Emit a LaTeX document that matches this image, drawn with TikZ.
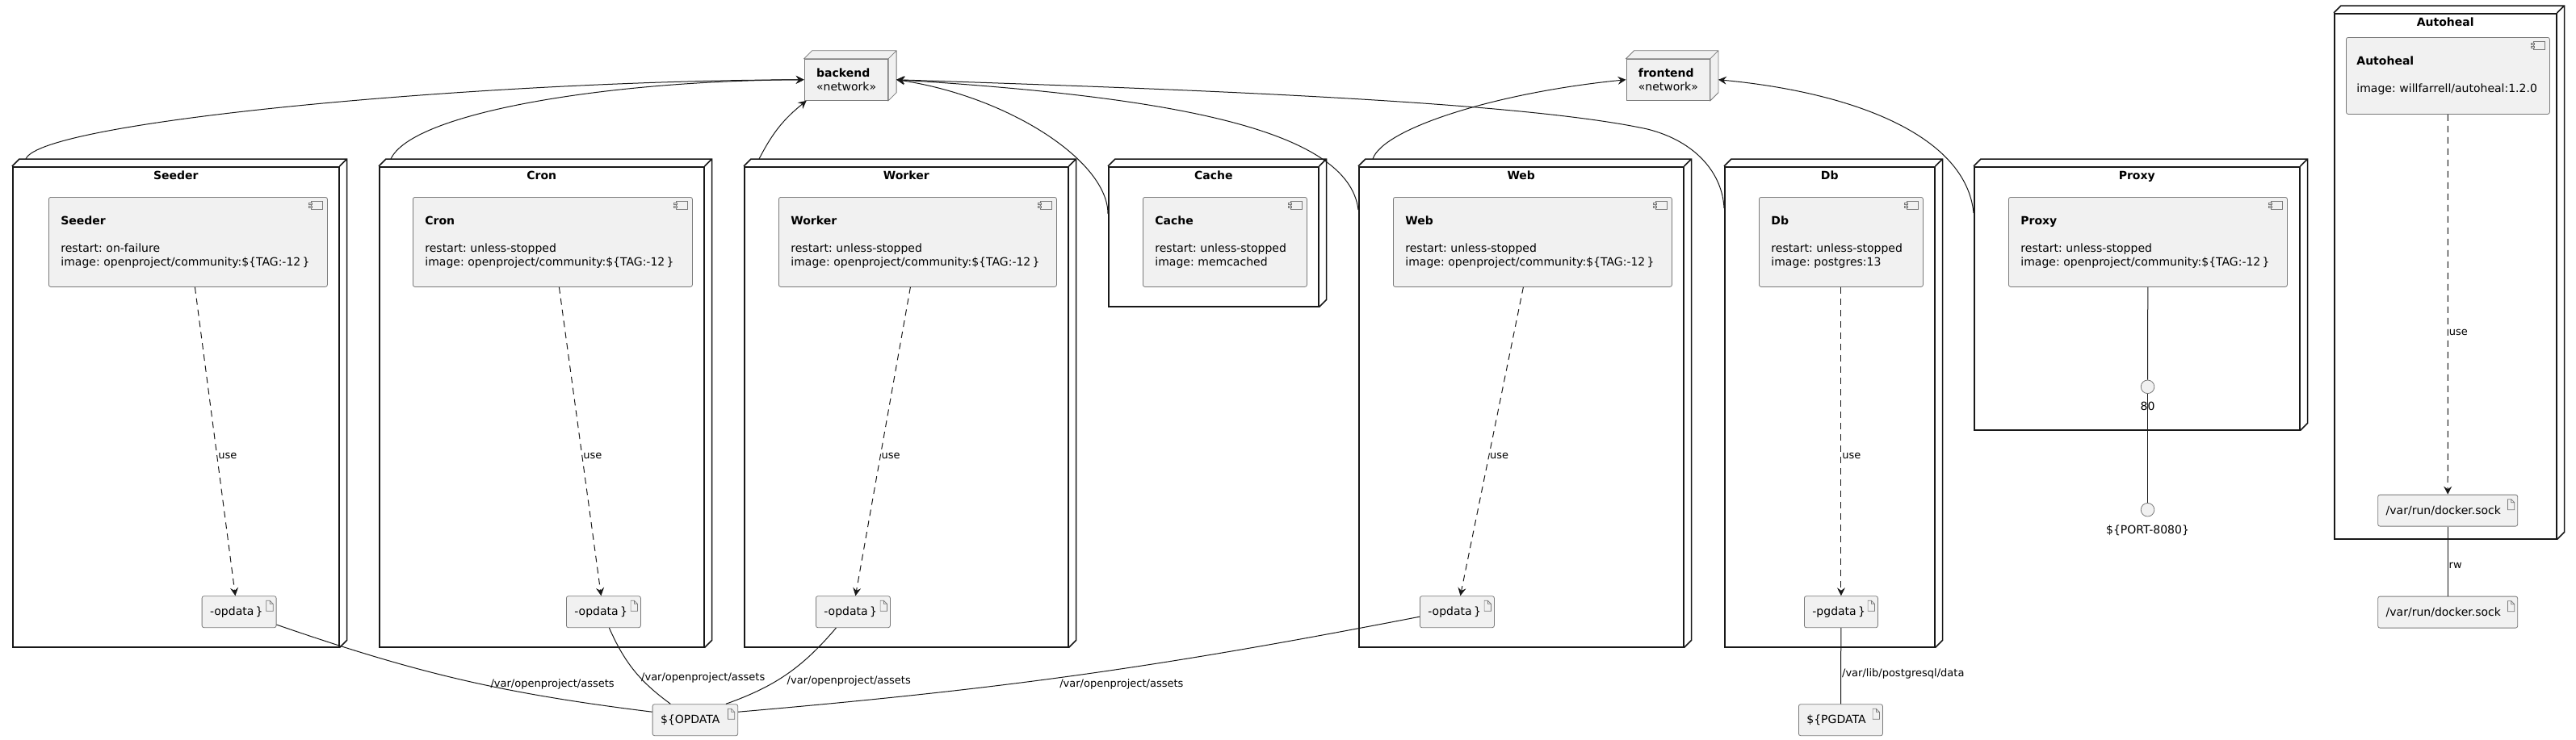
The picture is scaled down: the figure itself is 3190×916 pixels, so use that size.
\documentclass[tikz,border=0pt]{standalone}
\usepackage{fontspec}
\setmainfont{DejaVu Sans}
\usetikzlibrary{positioning, calc, arrows.meta}
\frenchspacing

\definecolor{boxfill}{HTML}{F1F1F1}
\definecolor{linecol}{HTML}{181818}
\definecolor{boxline}{HTML}{7A7A7A}

\tikzset{
  every node/.style={font=\fontsize{14}{17}\selectfont},
  dnode/.style={draw=linecol, line width=1.5pt, anchor=north west, inner sep=0pt},
  dline/.style={draw=linecol, line width=1.5pt},
  dtitle/.style={font=\fontsize{14}{17}\selectfont\bfseries, inner sep=1pt, text height=10pt, text depth=3pt},
  comp/.style={draw=boxline, fill=boxfill, line width=0.8pt, rounded corners=2.5pt, anchor=north west,
    align=left, inner xsep=15pt, inner ysep=0pt, minimum height=111pt},
  artif/.style={draw=boxline, fill=boxfill, line width=0.8pt, rounded corners=2.5pt, anchor=north west,
    align=left, inner xsep=10pt, inner ysep=0pt, minimum height=39pt},
  netw/.style={draw=boxline, fill=boxfill, line width=0.8pt, anchor=north west,
    align=left, inner xsep=15pt, inner ysep=0pt, minimum height=51.3pt, text width=73.6pt},
  iface/.style={circle, draw=boxline, fill=boxfill, line width=0.8pt, minimum size=16.6pt, inner sep=0pt},
  icon/.style={draw=boxline, fill=boxfill, line width=0.7pt},
  conn/.style={draw=linecol, line width=1pt},
  arr/.style={conn, -{Stealth[length=10pt, width=10pt, inset=3.5pt]}},
  usearr/.style={arr, dash pattern=on 8pt off 6pt},
  elbl/.style={font=\fontsize{13}{15}\selectfont, inner sep=1pt},
}

\begin{document}
\begin{tikzpicture}[x=1pt, y=1pt]
  \path[use as bounding box, fill=white] (0,0) rectangle (3190,-916);

  % containers
  \node[dnode, minimum width=404pt, minimum height=595pt] (seeder) at (15,-206) {};
  \node[dnode, minimum width=402pt, minimum height=595pt] (cron) at (469,-206) {};
  \node[dnode, minimum width=401pt, minimum height=595pt] (worker) at (921,-206) {};
  \node[dnode, minimum width=260pt, minimum height=173pt] (cache) at (1372,-206) {};
  \node[dnode, minimum width=402pt, minimum height=595pt] (web) at (1682,-206) {};
  \node[dnode, minimum width=260pt, minimum height=595pt] (db) at (2135,-206) {};
  \node[dnode, minimum width=403pt, minimum height=326pt] (proxy) at (2444,-206) {};
  \node[dnode, minimum width=275pt, minimum height=651pt] (autoheal) at (2890,-16) {};
  \foreach \n in {seeder,cron,worker,cache,web,db,proxy,autoheal}
    \draw[dline] (\n.north west) -- ++(9,9) -| ($(\n.south east)+(9,9)$) -- (\n.south east)
                 (\n.north east) -- ++(9,9);

  \node[dtitle, below=5pt of seeder.north] (seedertitle) {Seeder};
  \node[dtitle, below=5pt of cron.north] (crontitle) {Cron};
  \node[dtitle, below=5pt of worker.north] (workertitle) {Worker};
  \node[dtitle, below=5pt of cache.north] (cachetitle) {Cache};
  \node[dtitle, below=5pt of web.north] (webtitle) {Web};
  \node[dtitle, below=5pt of db.north] (dbtitle) {Db};
  \node[dtitle, below=5pt of proxy.north] (proxytitle) {Proxy};
  \node[dtitle, below=5pt of autoheal.north] (autohealtitle) {Autoheal};

  % services
  \node[comp, text width=315pt] (seedercomp) at (60,-244) {\textbf{Seeder}\\[17pt]restart: on-failure\\image: openproject/community:\$\{TAG:-12\,\}};
  \node[comp, text width=316pt] (croncomp) at (511,-244) {\textbf{Cron}\\[17pt]restart: unless-stopped\\image: openproject/community:\$\{TAG:-12\,\}};
  \node[comp, text width=314pt] (workercomp) at (964,-244) {\textbf{Worker}\\[17pt]restart: unless-stopped\\image: openproject/community:\$\{TAG:-12\,\}};
  \node[comp, text width=173pt] (cachecomp) at (1415,-244) {\textbf{Cache}\\[17pt]restart: unless-stopped\\image: memcached};
  \node[comp, text width=315pt] (webcomp) at (1725,-244) {\textbf{Web}\\[17pt]restart: unless-stopped\\image: openproject/community:\$\{TAG:-12\,\}};
  \node[comp, text width=173pt] (dbcomp) at (2178,-244) {\textbf{Db}\\[17pt]restart: unless-stopped\\image: postgres:13};
  \node[comp, text width=315pt] (proxycomp) at (2487,-244) {\textbf{Proxy}\\[17pt]restart: unless-stopped\\image: openproject/community:\$\{TAG:-12\,\}};
  \node[comp, text width=226pt, inner xsep=13pt, minimum height=95pt] (autohealcomp) at (2905,-46) {\textbf{Autoheal}\\[17pt]image: willfarrell/autoheal:1.2.0};
  \foreach \n in {seedercomp,croncomp,workercomp,cachecomp,webcomp,dbcomp,proxycomp,autohealcomp}{
    \draw[icon] ([shift={(-20,-5.5)}]\n.north east) rectangle ++(14,-10);
    \draw[icon] ([shift={(-23.3,-7.5)}]\n.north east) rectangle ++(4,-2)
                ([shift={(-23.3,-11.5)}]\n.north east) rectangle ++(4,-2);
  }

  % volumes
  \node[artif, text width=72pt] (seederdata) at (249.7,-738.3) {-opdata\,\}};
  \node[artif, text width=72pt] (crondata) at (701,-738.3) {-opdata\,\}};
  \node[artif, text width=72pt] (workerdata) at (1010,-738.3) {-opdata\,\}};
  \node[artif, text width=72pt] (webdata) at (1758,-738.3) {-opdata\,\}};
  \node[artif, text width=71pt] (dbdata) at (2234,-738.3) {-pgdata\,\}};
  \node[artif, text width=85.6pt] (opdata) at (807.7,-872.3) {\$\{OPDATA};
  \node[artif, text width=84pt] (pgdata) at (2227,-872.3) {\$\{PGDATA};
  \node[artif, text width=153pt] (sockin) at (2944.3,-612.7) {/var/run/docker.sock};
  \node[artif, text width=153pt] (sockout) at (2944.3,-738.7) {/var/run/docker.sock};
  \foreach \n in {seederdata,crondata,workerdata,webdata,dbdata,opdata,pgdata,sockin,sockout}
    \draw[icon] ([shift={(-12.7,-6)}]\n.north east) -- ++(4.4,0) -- ++(4,-4) -- ++(0,-9) -- ++(-8.4,0) -- cycle
                ([shift={(-8.3,-6)}]\n.north east) -- ++(0,-4) -- ++(4,0);

  % networks
  \node[netw] (backend) at (995.7,-72.7) {\textbf{backend}\\«network»};
  \node[netw] (frontend) at (2013.5,-72.7) {\textbf{frontend}\\«network»};
  \foreach \n in {backend,frontend}
    \draw[icon, line width=0.8pt] (\n.north west) -- ++(10,10) -- ($(\n.north east)+(10,10)$)
      -- ($(\n.south east)+(10,10)$) -- (\n.south east) -- (\n.north east) -- cycle
      (\n.north east) -- ++(10,10);

  % ports
  \node[iface] (port80) at (2659.5,-479.3) {};
  \node[iface] (port8080) at (2659.5,-631.7) {};
  \node[inner sep=1pt, below=9pt of port80] (port80lbl) {80};
  \node[inner sep=1pt, below=9pt of port8080] (port8080lbl) {\$\{PORT-8080\}};

  % network links
  \draw[arr] ([shift={(17,9)}]seeder.north west) .. controls (50,-150) and (600,-100) .. (backend.west);
  \draw[arr] ([shift={(15,9)}]cron.north west) .. controls (510,-140) and (750,-100) .. (backend.west);
  \draw[arr] ([shift={(19,9)}]worker.north west) to[bend left=12] ([xshift=3]backend.south west);
  \draw[arr] ([yshift=-59]cache.north west) .. controls (1372,-200) and (1250,-120) .. ([xshift=10]backend.east);
  \draw[arr] ([yshift=-54]web.north west) .. controls (1670,-160) and (1450,-120) .. ([xshift=10]backend.east);
  \draw[arr] ([yshift=-52]db.north west) .. controls (2133,-215) and (2100,-175) .. (2040,-160)
             .. controls (1880,-125) and (1450,-110) .. ([xshift=10]backend.east);
  \draw[arr] ([shift={(18,9)}]web.north west) .. controls (1712,-160) and (1850,-115) .. (frontend.west);
  \draw[arr] ([yshift=-58]proxy.north west) .. controls (2435,-170) and (2300,-115) .. ([xshift=10]frontend.east);

  % use
  \draw[usearr] ([xshift=8.5]seedercomp.south) -- node[elbl, right, pos=0.548] (seederuse) {use} ([xshift=-4.7]seederdata.north);
  \draw[usearr] ([xshift=8]croncomp.south) -- node[elbl, right, pos=0.548] (cronuse) {use} ([xshift=-3]crondata.north);
  \draw[usearr] ([xshift=-9]workercomp.south) -- node[elbl, right, pos=0.548] (workeruse) {use} ([xshift=3]workerdata.north);
  \draw[usearr] ([xshift=-11.5]webcomp.south) -- node[elbl, right, pos=0.548] (webuse) {use} ([xshift=4]webdata.north);
  \draw[usearr] (dbcomp.south) -- node[elbl, right, pos=0.548] (dbuse) {use} (dbdata.north);
  \draw[usearr] (autohealcomp.south) -- node[elbl, right, pos=0.574] (autohealuse) {use} (sockin.north);

  % mounts
  \draw[conn] ([yshift=4]seederdata.south east) to[bend right=6] node[elbl, pos=0.58, anchor=west, yshift=2] (seedermount) {/var/openproject/assets} ([yshift=10]opdata.west);
  \draw[conn] ([xshift=7]crondata.south) to[bend right=15] node[elbl, pos=0.6, anchor=west] (cronmount) {/var/openproject/assets} ([xshift=-30.5]opdata.north);
  \draw[conn] ([xshift=-21]workerdata.south) to[bend left=15] node[elbl, pos=0.6, anchor=west, xshift=12] (workermount) {/var/openproject/assets} ([xshift=38]opdata.north);
  \draw[conn] ([yshift=-6]webdata.west) to[bend left=3] node[elbl, pos=0.535, anchor=north west] (webmount) {/var/openproject/assets} ([yshift=10]opdata.east);
  \draw[conn] (dbdata) -- node[elbl, pos=0.6, right] (dbmount) {/var/lib/postgresql/data} (pgdata);
  \draw[conn] (sockin) -- node[elbl, pos=0.56, right] (sockmount) {rw} (sockout);
  \draw[conn] (proxycomp) -- (port80);
  \draw[conn] (port80) -- (port8080);
\end{tikzpicture}
\end{document}
